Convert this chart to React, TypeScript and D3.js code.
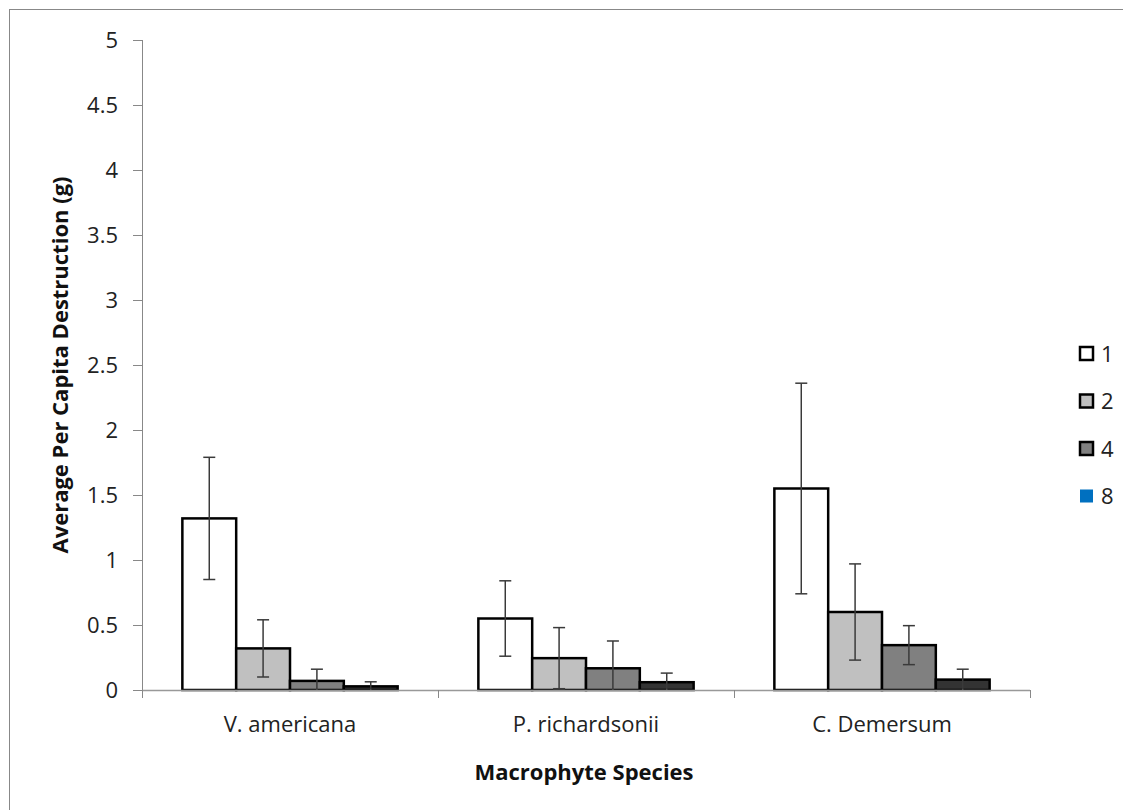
import React from "react";
import * as d3 from "d3";

const categories = ["V. americana", "P. richardsonii", "C. Demersum"];
const seriesNames = ["1", "2", "4", "8"];
const values1 = [1.32, 0.55, 1.55];
const values2 = [0.32, 0.245, 0.6];
const values4 = [0.07, 0.167, 0.345];
const values8 = [0.028, 0.06, 0.08];
const errors1 = [0.47, 0.29, 0.81];
const errors2 = [0.22, 0.235, 0.37];
const errors4 = [0.09, 0.21, 0.15];
const errors8 = [0.035, 0.07, 0.08];
const yTicks = [0, 0.5, 1, 1.5, 2, 2.5, 3, 3.5, 4, 4.5, 5];

const seriesValues = [values1, values2, values4, values8];
const seriesErrors = [errors1, errors2, errors4, errors8];
const barFills = ["#FFFFFF", "#C0C0C0", "#808080", "#333333"];
const legendFills = ["#FFFFFF", "#C0C0C0", "#808080", "#0070C0"];
const legendStroke = ["#000", "#000", "#000", "none"];

const FONT = "'Open Sans', sans-serif";

export default function App() {
  const left = 142, right = 1030, top = 40, bottom = 690;
  const y = d3.scaleLinear().domain([0, 5]).range([bottom, top]);
  const x0 = d3.scaleBand().domain(categories).range([left, right]).paddingInner(0).paddingOuter(0);
  const groupW = x0.bandwidth();
  const barW = groupW / (4 + 1.5);
  const x1 = d3.scaleBand().domain(seriesNames).range([barW * 0.75, barW * 0.75 + barW * 4]);
  const boundaries = [left, ...categories.map((c) => (x0(c) as number) + groupW)];

  return (
    <svg width={1123} height={810} style={{ position: "absolute", left: 0, top: 0 }} fontFamily={FONT}>
      <rect x={0} y={0} width={1123} height={810} fill="#fff" />
      <rect x={9.5} y={9.5} width={1130} height={820} fill="none" stroke="#888" strokeWidth={1} />
      {/* y axis */}
      <line x1={left + 0.5} x2={left + 0.5} y1={top} y2={bottom} stroke="#888" />
      {yTicks.map((t) => (
        <g key={t}>
          <line x1={left - 9} x2={left} y1={Math.round(y(t)) + 0.5} y2={Math.round(y(t)) + 0.5} stroke="#888" />
          <text x={left - 24} y={y(t)} dy="0.36em" textAnchor="end" fontSize={22} fill="#222">
            {String(t)}
          </text>
        </g>
      ))}
      {/* bars */}
      {categories.map((c, ci) =>
        seriesNames.map((s, si) => {
          const v = seriesValues[si][ci];
          const e = seriesErrors[si][ci];
          const bx = (x0(c) as number) + (x1(s) as number);
          const cx = bx + barW / 2;
          const yTop = y(v + e);
          const yBot = Math.min(y(Math.max(v - e, 0)), bottom);
          return (
            <g key={c + s}>
              <rect x={bx} y={y(v)} width={barW} height={bottom - y(v)} fill={barFills[si]} stroke="#000" strokeWidth={2.5} />
              <line x1={cx} x2={cx} y1={yTop} y2={yBot} stroke="#3a3a3a" strokeWidth={1.5} />
              <line x1={cx - 6} x2={cx + 6} y1={yTop} y2={yTop} stroke="#3a3a3a" strokeWidth={1.5} />
              {v - e > 0 && <line x1={cx - 6} x2={cx + 6} y1={yBot} y2={yBot} stroke="#3a3a3a" strokeWidth={1.5} />}
            </g>
          );
        })
      )}
      {/* x axis */}
      <line x1={left} x2={right} y1={bottom + 0.5} y2={bottom + 0.5} stroke="#999" strokeWidth={1.5} />
      {boundaries.map((b, i) => (
        <line key={i} x1={b + 0.5} x2={b + 0.5} y1={bottom} y2={bottom + 8} stroke="#888" />
      ))}
      {categories.map((c) => (
        <text key={c} x={(x0(c) as number) + groupW / 2} y={724} dy="0.36em" textAnchor="middle" fontSize={22} fill="#222">
          {c}
        </text>
      ))}
      <text x={(left + right) / 2 - 2} y={772} dy="0.36em" textAnchor="middle" fontSize={22} fontWeight="bold" fill="#111">
        Macrophyte Species
      </text>
      <text transform={`translate(60, ${(top + bottom) / 2}) rotate(-90)`} dy="0.36em" textAnchor="middle" fontSize={22} fontWeight="bold" fill="#111">
        Average Per Capita Destruction (g)
      </text>
      {/* legend */}
      {seriesNames.map((s, i) => {
        const ly = 354 + i * 47.5;
        return (
          <g key={s}>
            <rect x={1080} y={ly - 7} width={13} height={13} fill={legendFills[i]} stroke={legendStroke[i]} strokeWidth={2.5} />
            <text x={1101} y={ly} dy="0.36em" fontSize={22} fill="#222">{s}</text>
          </g>
        );
      })}
    </svg>
  );
}
